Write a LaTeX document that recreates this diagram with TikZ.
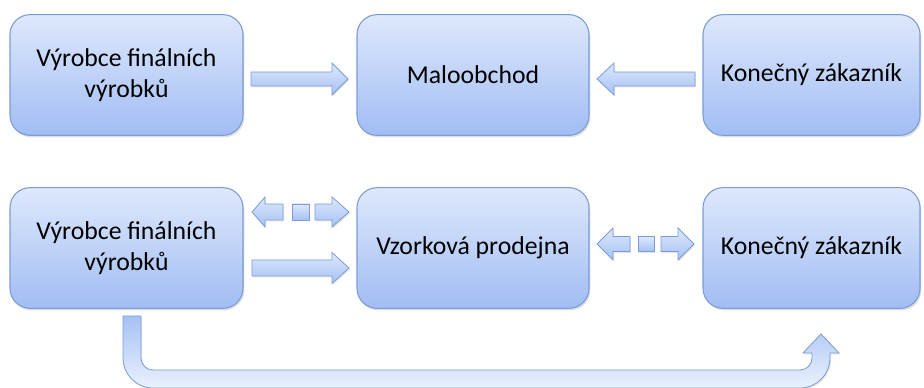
\documentclass[tikz,border=0pt]{standalone}
\usepackage{fontspec}
\setmainfont{Carlito}
\usetikzlibrary{shadows}
\definecolor{boxtop}{HTML}{DEE8FC}
\definecolor{boxbot}{HTML}{A1BDF4}
\definecolor{boxline}{HTML}{7B9BD4}
\definecolor{arrtop}{HTML}{DDE8FC}
\definecolor{arrbot}{HTML}{A6C1F4}
\tikzset{
  box/.style={draw=boxline, line width=0.8pt, rounded corners=15pt,
    top color=boxtop, bottom color=boxbot, minimum height=90.5pt,
    align=center, text=black, font=\fontsize{19.3}{23}\selectfont,
    drop shadow={opacity=0.25, shadow xshift=1pt, shadow yshift=-1.5pt}},
  blk/.style={draw=boxline, line width=0.6pt, top color=arrtop, bottom color=arrbot,
    drop shadow={opacity=0.2, shadow xshift=0.8pt, shadow yshift=-1pt}},
  bent/.style={draw=boxline, line width=0.6pt, top color=arrbot, bottom color=arrtop!60!white,
    drop shadow={opacity=0.2, shadow xshift=0.8pt, shadow yshift=-1pt}}
}
% right block arrow: start, head base, tip, y centre, shaft half, head half
\newcommand\myRarr[6]{\draw[blk] (#1,#4-#5) -- (#2,#4-#5) -- (#2,#4-#6) -- (#3,#4) -- (#2,#4+#6) -- (#2,#4+#5) -- (#1,#4+#5) -- cycle;}
\newcommand\mySqr[4]{\draw[blk] (#1,#3-#4) rectangle (#2,#3+#4);}
\begin{document}
\begin{tikzpicture}[x=0.75pt,y=-0.75pt]
\useasboundingbox (0,0) rectangle (924,388);
% top row
\node[box, minimum width=174.75pt] (a1) at (126.5,75) {Výrobce finálních\\výrobků};
\node[box, minimum width=174pt] (a2) at (473,75) {Maloobchod};
\node[box, minimum width=162.75pt] (a3) at (811.5,75) {Konečný zákazník};
% bottom row
\node[box, minimum width=174.75pt] (b1) at (126.5,248) {Výrobce finálních\\výrobků};
\node[box, minimum width=174pt] (b2) at (473,248) {Vzorková prodejna};
\node[box, minimum width=162.75pt] (b3) at (811.5,248) {Konečný zákazník};
% top arrows
\myRarr{251}{332}{348}{79}{7}{16}
\myRarr{695}{614}{597}{79}{7}{16}
% bottom double arrow 1
\myRarr{283}{265}{252}{212}{8}{15}
\mySqr{292}{309}{212}{8}
\myRarr{315}{332}{349}{212}{8}{15}
% bottom single arrow
\myRarr{252}{332}{349}{268}{8}{15.5}
% bottom double arrow 2
\myRarr{630}{613}{597}{244}{7.5}{16}
\mySqr{638}{654}{244}{7.5}
\myRarr{661}{678}{694}{244}{7.5}{16}
% bent arrow
\draw[bent] (123,316) -- (141,316) -- (141,358)
  .. controls (141,364.6) and (146.4,370) .. (153,370)
  -- (800,370)
  .. controls (806.6,370) and (812,364.6) .. (812,358)
  -- (812,353) -- (803,353) -- (821,334) -- (839,353) -- (830,353) -- (830,358)
  .. controls (830,374.6) and (816.6,388) .. (800,388)
  -- (153,388)
  .. controls (136.4,388) and (123,374.6) .. (123,358)
  -- cycle;
\end{tikzpicture}
\end{document}
